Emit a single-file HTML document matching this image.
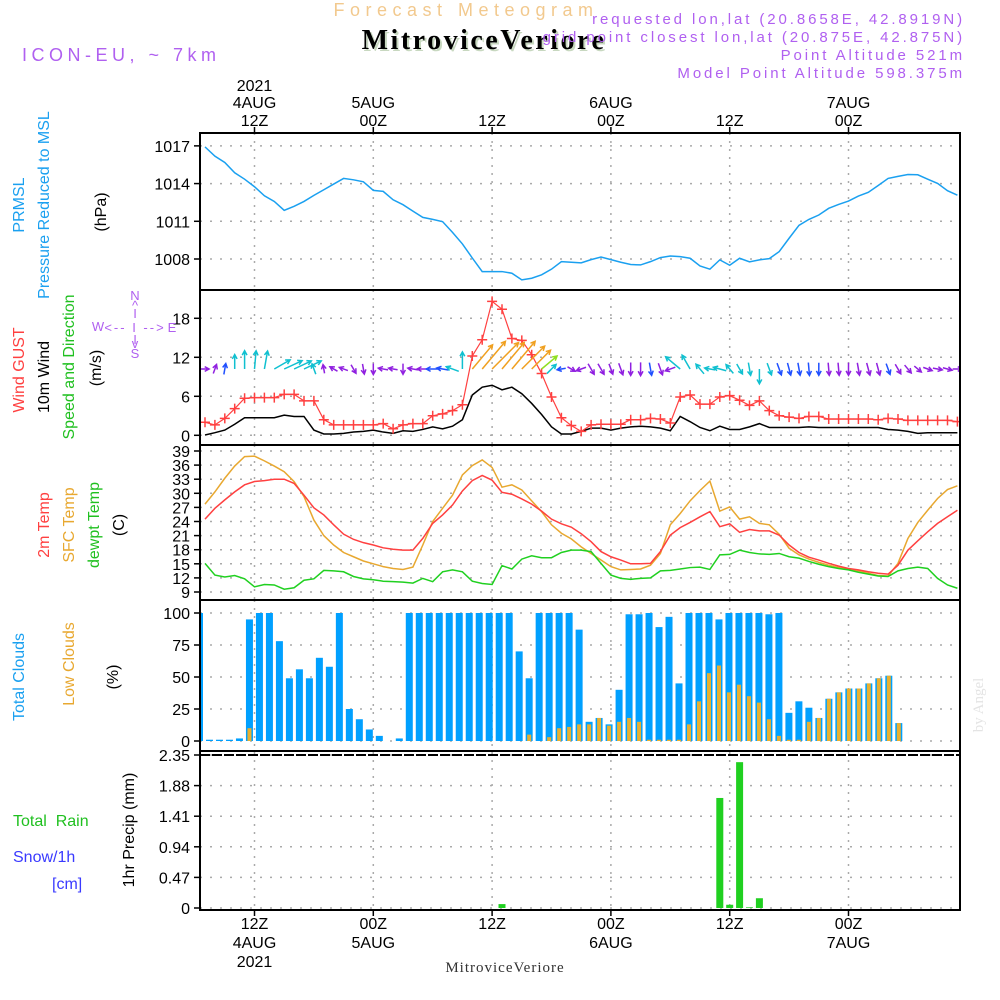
<!DOCTYPE html>
<html><head><meta charset="utf-8"><style>
html,body{margin:0;padding:0;background:#fff}
svg{display:block;font-family:"Liberation Sans",sans-serif}
</style></head><body>
<svg id="chart" width="1000" height="1000" viewBox="0 0 1000 1000">
<defs><clipPath id="plotclip"><rect x="200" y="133" width="760" height="777"/></clipPath></defs>
<g id="header">
<text x="466" y="16" text-anchor="middle" font-size="18" fill="#f2c98e" letter-spacing="5.5">Forecast Meteogram</text>
<text x="486" y="51" text-anchor="middle" font-size="28" font-weight="bold" fill="#c8d8c0" font-family="Liberation Serif,serif" letter-spacing="2.5">MitroviceVeriore</text>
<text x="484" y="49" text-anchor="middle" font-size="28" font-weight="bold" fill="#000" font-family="Liberation Serif,serif" letter-spacing="2.5">MitroviceVeriore</text>
<text x="965" y="24" text-anchor="end" font-size="15" fill="#b060f0" letter-spacing="2.9">requested lon,lat (20.8658E, 42.8919N)</text>
<text x="965" y="42" text-anchor="end" font-size="15" fill="#b060f0" letter-spacing="2.9">grid point closest lon,lat (20.875E, 42.875N)</text>
<text x="965" y="60" text-anchor="end" font-size="15" fill="#b060f0" letter-spacing="2.9">Point Altitude 521m</text>
<text x="965" y="78" text-anchor="end" font-size="15" fill="#b060f0" letter-spacing="2.9">Model Point Altitude 598.375m</text>
<text x="22" y="61" font-size="18" fill="#b060f0" letter-spacing="4.5">ICON-EU, ~ 7km</text>
</g>
<g id="grid"></g>
<g id="marks" clip-path="url(#plotclip)"></g>
<g id="axes"></g>
<g id="labels">
<text transform="translate(24,205) rotate(-90)" text-anchor="middle" font-size="16" fill="#1aa0f0">PRMSL</text>
<text transform="translate(49,205) rotate(-90)" text-anchor="middle" font-size="16" fill="#1aa0f0">Pressure Reduced to MSL</text>
<text transform="translate(106,212) rotate(-90)" text-anchor="middle" font-size="16" fill="#000">(hPa)</text>
<text transform="translate(24,370) rotate(-90)" text-anchor="middle" font-size="16"><tspan fill="#ff4040">Wind GUST</tspan></text>
<text transform="translate(49,377) rotate(-90)" text-anchor="middle" font-size="16" fill="#000">10m Wind</text>
<text transform="translate(74,367) rotate(-90)" text-anchor="middle" font-size="16" fill="#20c020">Speed and Direction</text>
<text transform="translate(101,368) rotate(-90)" text-anchor="middle" font-size="16" fill="#000">(m/s)</text>
<g fill="#b060f0" font-size="13" text-anchor="middle">
<text x="135" y="300">N</text><text x="135" y="310">^</text><text x="135" y="318">I</text><text x="135" y="332" letter-spacing="2">&lt;-- I --&gt;</text><text x="98" y="331">W</text><text x="172" y="332">E</text><text x="135" y="344">I</text><text x="135" y="348">v</text><text x="135" y="358">S</text></g>
<text transform="translate(49,525) rotate(-90)" text-anchor="middle" font-size="16" fill="#ff4040">2m Temp</text>
<text transform="translate(74,525) rotate(-90)" text-anchor="middle" font-size="16" fill="#e8a830">SFC Temp</text>
<text transform="translate(99,525) rotate(-90)" text-anchor="middle" font-size="16" fill="#20c020">dewpt Temp</text>
<text transform="translate(124,525) rotate(-90)" text-anchor="middle" font-size="16" fill="#000">(C)</text>
<text transform="translate(24,677) rotate(-90)" text-anchor="middle" font-size="16" fill="#1aa0f0">Total Clouds</text>
<text transform="translate(74,664) rotate(-90)" text-anchor="middle" font-size="16" fill="#e8a830">Low Clouds</text>
<text transform="translate(118,677) rotate(-90)" text-anchor="middle" font-size="16" fill="#000">(%)</text>
<text x="13" y="826" font-size="16" fill="#20c020" xml:space="preserve">Total  Rain</text>
<text x="13" y="862" font-size="16" fill="#3a3aff">Snow/1h</text>
<text x="52" y="889" font-size="16" fill="#3a3aff">[cm]</text>
<text transform="translate(134,830) rotate(-90)" text-anchor="middle" font-size="16" fill="#000">1hr Precip (mm)</text>
<text transform="translate(983,705) rotate(-90)" text-anchor="middle" font-size="15" fill="#e4e4e4" font-family="Liberation Serif,serif">by Angel</text>
<text x="505" y="972" text-anchor="middle" font-size="15" fill="#333" font-family="Liberation Serif,serif" letter-spacing="1">MitroviceVeriore</text>
</g>
</svg>
<script>
// ---- data (hourly, starting 07Z 4AUG) ----
const pressure=[1016.92,1016.18,1015.68,1014.86,1014.35,1013.75,1013.03,1012.58,1011.87,1012.19,1012.58,1013.06,1013.51,1013.96,1014.41,1014.30,1014.14,1013.46,1013.38,1012.71,1012.32,1011.81,1011.31,1011.15,1010.97,1010.12,1009.20,1008.08,1007.0,1007.0,1007.0,1006.87,1006.34,1006.47,1006.74,1007.19,1007.79,1007.74,1007.69,1007.95,1008.16,1007.95,1007.74,1007.56,1007.53,1007.79,1008.11,1008.24,1008.19,1008.06,1007.45,1007.19,1007.93,1007.50,1008.06,1007.77,1007.93,1008.03,1008.59,1009.65,1010.68,1011.15,1011.50,1012.03,1012.34,1012.61,1013.01,1013.30,1013.85,1014.41,1014.57,1014.72,1014.70,1014.35,1014.01,1013.43,1013.08];
const gust=[2.0,1.6,2.6,4.1,5.7,5.8,5.8,5.8,6.3,6.3,5.3,5.3,2.4,1.6,1.6,1.6,1.6,1.6,1.8,1.0,1.6,1.8,1.8,3.0,3.3,3.8,4.7,12.2,14.7,20.6,19.4,14.9,14.6,12.4,9.5,5.9,2.7,1.5,0.6,1.6,1.7,1.7,1.7,2.4,2.4,2.6,2.5,1.9,5.9,6.2,4.8,4.8,5.9,6.1,5.4,4.6,5.3,3.8,3.0,2.8,2.6,2.9,2.9,2.5,2.5,2.5,2.5,2.5,2.4,2.6,2.5,2.3,2.3,2.3,2.3,2.3,2.1];
const wind=[0.05,0.4,0.8,1.7,2.7,2.7,2.7,2.7,3.1,2.9,2.9,0.8,0.2,0.2,0.3,0.5,0.6,0.8,0.5,0.3,0.7,0.6,0.9,1.3,1.0,1.4,2.4,6.2,7.4,7.7,7.0,7.4,6.4,4.9,3.2,1.3,0.2,0.2,0.6,1.1,1.1,0.8,1.1,1.3,1.4,1.3,1.1,0.7,2.9,2.1,1.2,0.7,1.4,0.9,0.9,1.3,1.8,1.2,1.2,1.2,1.2,1.3,1.2,1.2,1.2,1.2,1.2,1.2,1.2,0.9,0.8,0.6,0.3,0.4,0.4,0.4,0.4];
const windDir=[0,70,80,90,90,85,80,30,25,25,25,110,100,150,160,300,280,270,170,170,270,170,180,180,170,160,90,50,50,45,50,50,45,45,40,45,190,330,200,300,300,290,290,270,270,280,290,200,140,120,130,170,165,130,300,280,270,290,290,285,280,275,270,275,275,270,280,285,285,290,300,310,320,340,350,345,0];
const temp2m=[24.5,26.8,28.6,30.3,31.8,32.5,32.7,33.0,33.0,32.1,29.6,26.9,25.4,23.3,21.3,20.2,19.5,19.0,18.4,18.1,17.9,17.9,20.4,23.6,25.4,27.5,30.5,32.7,33.8,32.8,30.2,29.8,28.8,27.7,26.2,24.5,23.5,22.8,21.4,19.7,17.6,16.5,15.8,15.0,15.0,15.1,17.6,21.1,22.7,23.8,25.0,26.1,22.9,23.5,21.7,22.3,22.0,22.0,21.1,19.0,17.4,16.4,15.8,15.1,14.5,14.0,13.7,13.3,13.0,12.8,14.7,17.9,19.9,21.8,23.6,25.0,26.4];
const tempSfc=[27.7,30.3,33.2,35.8,37.8,37.9,36.9,35.8,34.6,32.5,29.3,24.3,21.0,19.0,17.4,16.5,15.6,15.0,14.4,14.0,13.8,14.3,19.0,24.0,26.8,29.6,33.9,35.9,37.1,35.5,31.3,31.8,30.7,28.4,26.1,23.3,21.5,20.3,18.6,17.2,15.8,14.4,13.7,13.8,13.9,14.7,17.2,23.3,25.7,28.4,30.6,32.6,26.2,27.1,24.5,25.0,23.6,23.3,21.3,18.3,16.9,16.0,15.3,14.7,14.2,13.9,13.5,13.0,12.5,12.4,15.1,20.4,23.8,26.4,28.9,30.8,31.6];
const dewpt=[15.1,12.6,12.2,12.5,11.8,10.1,10.6,10.5,9.6,9.9,11.5,11.8,13.6,13.5,13.3,12.3,11.8,11.6,11.3,11.2,11.1,10.9,11.9,11.2,13.3,13.7,13.3,11.3,10.8,10.6,14.6,13.9,16.0,16.7,16.3,16.3,17.4,17.9,17.9,17.6,15.1,12.6,11.9,11.7,11.9,12.0,13.5,13.6,13.9,14.2,14.3,13.8,16.9,17.0,17.9,17.4,17.1,17.0,17.2,16.5,16.2,15.5,14.9,14.4,14.0,13.7,13.2,12.8,12.4,12.3,13.5,14.0,14.3,14.0,11.9,10.5,9.8];
const totalClouds=[100,1,1,1,2,95,100,100,78,49,56,49,65,58,100,25,17,9,4,0,2,100,100,100,100,100,100,100,100,100,100,100,70,49,100,100,100,100,87,15,18,13,40,99,99,100,89,97,45,100,100,100,95,100,100,100,100,99,100,22,31,26,18,33,38,41,41,45,49,51,14,0,0,0,0,0,0];
const lowClouds=[0,0,0,0,0,10,0,0,0,0,0,0,0,0,0,0,0,0,0,0,0,0,0,0,0,0,0,0,0,0,0,0,0,5,0,3,10,11,13,13,18,12,15,18,15,1,1,1,1,13,31,53,59,38,44,35,30,17,4,1,1,15,18,33,38,41,41,45,49,51,14,0,0,0,0,0,0];
const precip=[0,0,0,0,0,0,0,0,0,0,0,0,0,0,0,0,0,0,0,0,0,0,0,0,0,0,0,0,0,0,0.06,0,0,0,0,0,0,0,0,0,0,0,0,0,0,0,0,0,0,0,0,0,1.69,0.05,2.24,0.01,0.15,0,0,0,0,0,0,0,0,0,0,0,0,0,0,0,0,0,0,0,0];
const tickHours=[5,17,29,41,53,65];
const tickTimes=["12Z","00Z","12Z","00Z","12Z","00Z"];
const tickDates=["4AUG","5AUG","","6AUG","","7AUG"];
const pressTicks=[1008,1011,1014,1017];
const windTicks=[0,6,12,18];
const tempTicks=[9,12,15,18,21,24,27,30,33,36,39];
const cloudTicks=[0,25,50,75,100];
const precipTicks=[0,0.47,0.94,1.41,1.88,2.35];

// ---- scales ----
const X0=200,X1=960;
const xl=i=>205+9.9*i;
const xc=k=>199.5+9.99*k;
const yP=v=>259-(v-1008)*12.57;
const yW=v=>435.3-v*6.5;
const yT=v=>592-(v-9)*4.7;
const yC=v=>741-v*1.28;
const yR=v=>908-v/2.35*153;
const NS="http://www.w3.org/2000/svg";
function el(tag,attrs,parent){const e=document.createElementNS(NS,tag);for(const k in attrs)e.setAttribute(k,attrs[k]);parent.appendChild(e);return e;}
const grid=document.getElementById('grid'),marks=document.getElementById('marks'),axes=document.getElementById('axes');
const panels=[[133,290,yP,pressTicks,v=>String(v)],[290,445,yW,windTicks,v=>String(v)],[445,600,yT,tempTicks,v=>String(v)],[600,752,yC,cloudTicks,v=>String(v)],[752,910,yR,precipTicks,v=>v===0?"0":v.toFixed(2)]];
panels.forEach(([top,bot,ys,ticks,fmt],pi)=>{
  ticks.forEach(t=>{const y=ys(t);
    const g=el('line',{x1:X0,x2:X1,y1:y,y2:y,stroke:'#aaa','stroke-width':1.5,'stroke-dasharray':'2 8'},grid);
    
    el('line',{x1:X0-6,x2:X0,y1:y,y2:y,stroke:'#000','stroke-width':1.5},axes);
    const tx=el('text',{x:X0-10,y:y+6,'text-anchor':'end','font-size':16,fill:'#000'},axes);
    tx.textContent=fmt(t);
    
  });
  tickHours.forEach(h=>{const x=xl(h);
    const g=el('line',{x1:x,x2:x,y1:top,y2:bot,stroke:'#aaa','stroke-width':1.5,'stroke-dasharray':'2 6'},grid);
    });
});
el('rect',{x:X0,y:133,width:X1-X0,height:777,fill:'none',stroke:'#000','stroke-width':2},axes);
[290,445,600].forEach(y=>el('line',{x1:X0,x2:X1,y1:y,y2:y,stroke:'#000','stroke-width':2},axes));
el('line',{x1:X0,x2:X1,y1:751,y2:751,stroke:'#000','stroke-width':2},axes);
el('line',{x1:X0,x2:X1,y1:755,y2:755,stroke:'#000','stroke-width':2,'stroke-dasharray':'10 2'},axes);
tickHours.forEach((h,i)=>{const x=xl(h);
  el('line',{x1:x,x2:x,y1:127,y2:133,stroke:'#000','stroke-width':1.5},axes);
  el('line',{x1:x,x2:x,y1:910,y2:916,stroke:'#000','stroke-width':1.5},axes);
  let t=el('text',{x:x,y:126,'text-anchor':'middle','font-size':16},axes);t.textContent=tickTimes[i];
  
  t=el('text',{x:x,y:929,'text-anchor':'middle','font-size':16},axes);t.textContent=tickTimes[i];
  
  if(tickDates[i]){
    t=el('text',{x:x,y:108,'text-anchor':'middle','font-size':16},axes);t.textContent=tickDates[i];
    
    t=el('text',{x:x,y:948,'text-anchor':'middle','font-size':16},axes);t.textContent=tickDates[i];
    
  }
  if(i===0){
    t=el('text',{x:x,y:91,'text-anchor':'middle','font-size':16},axes);t.textContent="2021";
    
    t=el('text',{x:x,y:967,'text-anchor':'middle','font-size':16},axes);t.textContent="2021";
    
  }
});
function line(arr,ys,color,name,w){
  const p=el('polyline',{points:arr.map((v,i)=>xl(i)+','+ys(v)).join(' '),fill:'none',stroke:color,'stroke-width':w||1.5},marks);
  return p;}
line(pressure,yP,'#1aa0f0','pressure-line');
totalClouds.forEach((v,k)=>{
  const r=el('rect',{x:xc(k)-3.5,y:yC(v),width:7,height:yC(0)-yC(v),fill:'#00a0ff'},marks);
  });
lowClouds.forEach((v,k)=>{if(v<=0)return;
  const r=el('rect',{x:xc(k)-2,y:yC(v),width:4,height:yC(0)-yC(v),fill:'#e8b030'},marks);
  });
precip.forEach((v,k)=>{if(v<=0)return;
  const r=el('rect',{x:xl(k)-3.5,y:yR(v),width:7,height:yR(0)-yR(v),fill:'#20d020'},marks);
  });
line(tempSfc,yT,'#e8a830','sfc-temp-line');
line(temp2m,yT,'#ff4040','temp-2m-line');
line(dewpt,yT,'#20d020','dewpt-line');
line(wind,yW,'#000','wind-speed-line');
line(gust,yW,'#ff4040','gust-line',1.2);
gust.forEach((v,i)=>{const x=xl(i),y=yW(v);
  const p=el('path',{d:`M${x-5},${y}H${x+5}M${x},${y-5}V${y+5}`,stroke:'#ff4040','stroke-width':1.5},marks);
  });
function arrowColor(g){return g<2.55?'#9020e0':g<3.5?'#2050ff':g<8?'#10c0d0':g<11?'#90e020':'#f0a020';}
windDir.forEach((d,i)=>{
  const len=8+3.8*wind[i];const a=d*Math.PI/180;
  const dx=Math.cos(a)*len,dy=-Math.sin(a)*len;
  let x0=xl(i),y0=369;
  if(len<14){x0-=dx/2;y0-=dy/2;}
  const x1=x0+dx,y1=y0+dy;
  const h=5,ha=0.5;
  const bx1=x1-h*Math.cos(a-ha),by1=y1+h*Math.sin(a-ha);
  const bx2=x1-h*Math.cos(a+ha),by2=y1+h*Math.sin(a+ha);
  const p=el('path',{d:`M${x0},${y0}L${x1},${y1}M${bx1},${by1}L${x1},${y1}L${bx2},${by2}`,stroke:arrowColor(gust[i]),'stroke-width':1.5,fill:'none'},marks);
  
});
</script>
</body></html>
